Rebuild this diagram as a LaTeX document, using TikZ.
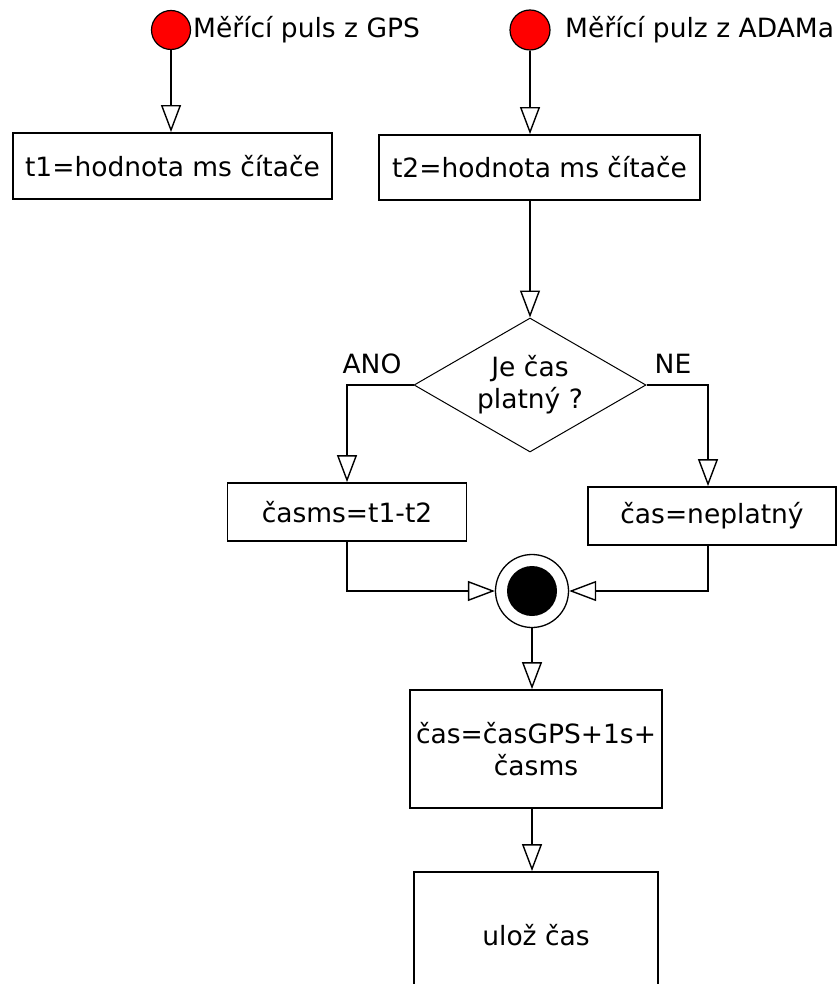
\documentclass[tikz,border=0pt]{standalone}
\usepackage{fontspec}
\setmainfont{DejaVu Sans}
\usetikzlibrary{arrows.meta,shapes.geometric}
\begin{document}
\begin{tikzpicture}[x=1pt,y=-1pt,
  every node/.style={font=\fontsize{26.5}{32}\selectfont, inner sep=0pt},
  box/.style={draw, line width=1.8pt, fill=white, align=center},
  pin/.style={circle, draw, line width=1.2pt, fill=red, minimum size=39pt},
  flow/.style={line width=1.8pt, -{Triangle[open, length=27pt, width=20pt, line width=1.4pt]}},
]
\clip (0,0) rectangle (837,984);
\fill[white] (0,0) rectangle (837,984);

% start signals
\node[pin] (s1) at (171,30) {};
\node[anchor=base west] (l1) at (193,38) {Měřící puls z GPS};
\node[pin, minimum size=40pt] (s2) at (530,30) {};
\node[anchor=base west] (l2) at (565,38) {Měřící pulz z ADAMa};

% counter readings
\node[box, minimum width=319pt, minimum height=66pt] (b1) at (172.5,166) {t1=hodnota ms čítače};
\node[box, minimum width=321pt, minimum height=65pt] (b2) at (539.5,167.5) {t2=hodnota ms čítače};

% decision
\node[diamond, draw, line width=1pt, aspect=1.73, minimum width=232pt, minimum height=134pt, align=center] (d) at (530,385) {Je čas\\platný ?};
\node[anchor=base] (ano) at (372,373) {ANO};
\node[anchor=base] (ne) at (673,373) {NE};

% branches
\node[box, minimum width=239pt, minimum height=58pt] (b3) at (347,512) {časms=t1-t2};
\node[box, minimum width=248pt, minimum height=58pt] (b4) at (712,516) {čas=neplatný};

% merge point
\node[circle, draw, line width=1.3pt, fill=white, minimum size=73pt] (m) at (532,591) {};
\node[circle, fill=black, minimum size=50pt] (mi) at (m.center) {};

% result
\node[box, minimum width=252pt, minimum height=118pt] (b5) at (536,749) {čas=časGPS+1s+\\časms};
\node[box, minimum width=244pt, minimum height=126pt] (b6) at (536,935) {ulož čas};

% connectors
\coordinate (cl) at (347,385);
\coordinate (cr) at (708,385);
\draw[flow] (s1) -- (s1 |- b1.north);
\draw[flow] (s2) -- (s2 |- b2.north);
\draw[flow] (s2 |- b2.south) -- (d.north);
\draw[flow] (d.west) -- (cl) -- (cl |- b3.north);
\draw[flow] (d.east) -- (cr) -- (cr |- b4.north);
\draw[flow] (cl |- b3.south) |- (m.west);
\draw[flow] (cr |- b4.south) |- (m.east);
\draw[flow] (m.south) -- (m.south |- b5.north);
\draw[flow] (m.south |- b5.south) -- (m.south |- b6.north);
\end{tikzpicture}
\end{document}
